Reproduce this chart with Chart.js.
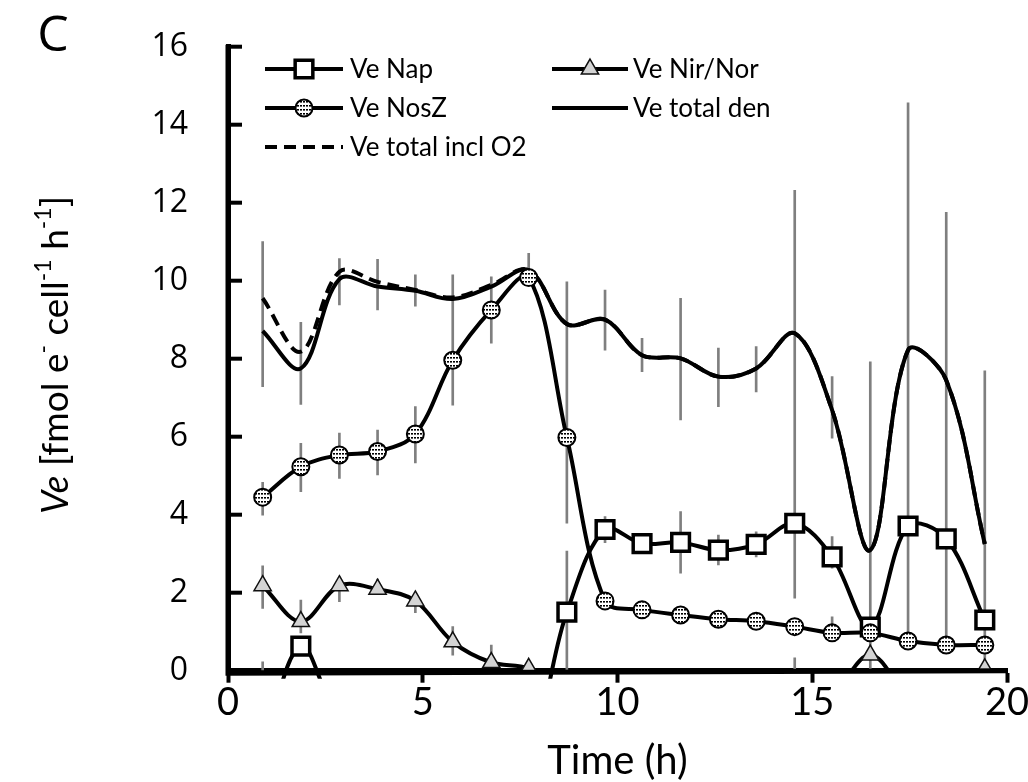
<!DOCTYPE html>
<html><head><meta charset="utf-8">
<script src="https://cdn.jsdelivr.net/npm/chart.js@4.4.1/dist/chart.umd.min.js"></script>
<style>html,body{margin:0;padding:0;background:#fff;}#wrap{width:1028px;height:782px;position:relative;}</style>
</head><body><div id="wrap"><canvas id="c"></canvas></div>
<script>
// ---- data ----
const times = [0.89,1.87,2.86,3.84,4.81,5.77,6.76,7.72,8.70,9.68,10.63,11.62,12.59,13.56,14.55,15.51,16.49,17.46,18.44,19.43];
const veNap = [-2.0,0.63,-1.2,-1.5,-1.5,-1.5,-1.5,-1.85,1.5,3.62,3.26,3.29,3.09,3.24,3.78,2.92,1.12,3.71,3.38,1.30];
const veNirNor = [2.18,1.26,2.18,2.09,1.79,0.74,0.21,0.06,-0.6,-1.0,-1.0,-1.0,-1.0,-1.0,-1.0,-0.6,0.4,-0.65,-1.2,0.05];
const veNosZ = [4.45,5.23,5.53,5.62,6.07,7.96,9.25,10.08,5.98,1.79,1.56,1.43,1.32,1.27,1.13,0.97,0.97,0.76,0.66,0.66];
const veTotalDen = [8.71,7.75,10.04,9.85,9.74,9.53,9.85,10.27,8.89,9.0,8.09,8.01,7.54,7.75,8.65,6.68,3.09,8.22,7.45,3.25];
const veTotalInclO2 = [9.55,8.18,10.23,9.97,9.76,9.57,9.89,10.27,8.89,9.0,8.09,8.01,7.54,7.75,8.65,6.68,3.09,8.22,7.45,3.25];
// error bar ranges (low / high), null = none visible
const errTotLo = [7.28,6.83,9.38,9.25,9.35,6.81,8.4,10.3,3.78,8.22,7.67,6.43,6.77,7.15,1.86,5.96,0,0.87,0.79,0.2];
const errTotHi = [11.0,8.93,10.57,10.55,10.15,10.15,10.1,10.7,9.97,9.76,8.52,9.55,8.27,8.31,12.32,7.54,7.92,14.56,11.75,7.69];
const errNosZLo = [3.99,4.59,4.93,5.02,5.33,null,null,null,null,null,null,null,null,null,null,0.79,null,null,null,null];
const errNosZHi = [4.83,5.83,6.09,6.17,6.77,null,null,null,null,null,null,null,null,null,null,1.38,null,null,null,null];
const errNirLo = [1.6,0.97,1.77,1.95,1.49,0.4,0.1,null,null,null,null,null,null,null,0,null,null,null,null,null];
const errNirHi = [2.69,1.81,2.37,2.35,2.0,1.13,0.66,null,null,null,null,null,null,null,0.33,null,null,null,null,null];
const errNapLo = [0,null,null,null,null,null,null,null,0,3.28,3.0,2.5,2.71,2.92,null,2.63,null,null,null,null];
const errNapHi = [0.23,null,null,null,null,null,null,null,3.07,3.95,3.5,4.08,3.48,3.56,null,3.44,null,null,null,null];
const xTicks = [0,5,10,15,20];
const yTicks = [0,2,4,6,8,10,12,14,16];
const seriesLabels = ['Ve Nap','Ve Nir/Nor','Ve NosZ','Ve total den','Ve total incl O2'];

// ---- hatch pattern for NosZ markers ----
function makePattern(){
  const p = document.createElement('canvas'); p.width = 3; p.height = 4;
  const g = p.getContext('2d');
  g.fillStyle = '#fff'; g.fillRect(0,0,3,4);
  g.fillStyle = '#000'; g.fillRect(0,1,2,1.6);
  return g.createPattern(p,'repeat');
}
const hatch = makePattern();

const pts = arr => times.map((t,i)=>({x:t,y:arr[i]}));
const rng = (lo,hi) => times.map((t,i)=> lo[i]==null ? null : {x:t,y:[lo[i],hi[i]]}).filter(Boolean);
const errDS = (lo,hi) => ({type:'bar',data:rng(lo,hi),backgroundColor:'#7f7f7f',borderWidth:0,barThickness:2,grouped:false,order:10,label:'_err'});
const clipB = {left:0,top:0,right:0,bottom:8};

const datasets = [
  {label:seriesLabels[0],data:pts(veNap),borderColor:'#000',borderWidth:4,pointStyle:'rect',pointRadius:12.5,pointBorderWidth:3.5,pointBackgroundColor:'#fff',pointBorderColor:'#000',order:3,clip:clipB},
  {label:seriesLabels[1],data:pts(veNirNor),borderColor:'#000',borderWidth:4,pointStyle:'triangle',pointRadius:10,pointBorderWidth:1.5,pointBackgroundColor:'#d4d4d4',pointBorderColor:'#111',order:4,clip:{left:0,top:0,right:0,bottom:1}},
  {label:seriesLabels[2],data:pts(veNosZ),borderColor:'#000',borderWidth:4,pointStyle:'circle',pointRadius:8.5,pointBorderWidth:2,pointBackgroundColor:hatch,pointBorderColor:'#000',order:0,clip:clipB},
  {label:seriesLabels[3],data:pts(veTotalDen),borderColor:'#000',borderWidth:4,pointRadius:0,order:2,clip:clipB},
  {label:seriesLabels[4],data:pts(veTotalInclO2),borderColor:'#000',borderWidth:4,borderDash:[12,7],pointRadius:0,order:1,clip:clipB},
  errDS(errTotLo,errTotHi), errDS(errNosZLo,errNosZHi), errDS(errNirLo,errNirHi), errDS(errNapLo,errNapHi)
];

function drawMarker(ctx, ds, x, y){
  const st = ds.pointStyle; if(!st || !ds.pointRadius) return;
  const r = ds.pointRadius;
  ctx.save(); ctx.beginPath();
  if(st==='rect'){ const s = Math.SQRT1_2*r; ctx.rect(x-s,y-s,2*s,2*s); }
  else if(st==='circle'){ ctx.arc(x,y,r,0,Math.PI*2); }
  else if(st==='triangle'){ ctx.moveTo(x, y-r); ctx.lineTo(x+r*Math.sin(2*Math.PI/3), y-r*Math.cos(2*Math.PI/3)); ctx.lineTo(x+r*Math.sin(4*Math.PI/3), y-r*Math.cos(4*Math.PI/3)); ctx.closePath(); }
  ctx.fillStyle = ds.pointBackgroundColor; ctx.fill();
  ctx.lineWidth = ds.pointBorderWidth; ctx.strokeStyle = ds.pointBorderColor; ctx.stroke();
  ctx.restore();
}

const extras = {
  id:'extras',
  afterDraw(chart){
    const ctx = chart.ctx, ca = chart.chartArea, ys = chart.scales.y;
    ctx.save();
    // redraw axis lines on top
    ctx.strokeStyle='#000'; ctx.lineWidth=5; ctx.lineCap='butt';
    ctx.beginPath(); ctx.moveTo(ca.left, ca.top-2); ctx.lineTo(ca.left, ca.bottom+2.5); ctx.lineTo(ca.right, ca.bottom); ctx.stroke();
    // inward y ticks
    ctx.lineWidth=4;
    yTicks.forEach(v=>{ const py = ys.getPixelForValue(v); ctx.beginPath(); ctx.moveTo(ca.left, py); ctx.lineTo(ca.left+14, py); ctx.stroke(); });
    // legend
    const cols=[{x1:265,x2:343,tx:350},{x1:552,x2:628,tx:633}];
    const rows=[69,108,147];
    ctx.font='26px Lato'; ctx.textBaseline='middle'; ctx.fillStyle='#000';
    [0,1,2,3,4].forEach((di,k)=>{
      const ds = chart.data.datasets[di];
      const c = cols[k%2], y = rows[Math.floor(k/2)];
      ctx.save(); ctx.strokeStyle='#000'; ctx.lineWidth=4; ctx.setLineDash(ds.borderDash||[]);
      ctx.beginPath(); ctx.moveTo(c.x1,y); ctx.lineTo(c.x2,y); ctx.stroke(); ctx.restore();
      drawMarker(ctx, ds, (c.x1+c.x2)/2, y);
      ctx.fillStyle='#000'; ctx.fillText(ds.label, c.tx, y+1);
    });
    // panel letter
    ctx.font='50px "Open Sans"'; ctx.textAlign='center'; ctx.fillText('C', 53, 37);
    // y title with italic and superscripts
    const segs=[['Ve','italic',0],[' [fmol e','',0],['-','',1],[' cell','',0],['-1','',1],[' h','',0],['-1','',1],[']','',0]];
    const fs=37, sfs=23;
    ctx.translate(56, 355); ctx.rotate(-Math.PI/2); ctx.textAlign='left';
    let tot=0; segs.forEach(s=>{ ctx.font=(s[1]?s[1]+' ':'')+(s[2]?sfs:fs)+'px Lato'; tot+=ctx.measureText(s[0]).width; });
    let x=-tot/2;
    segs.forEach(s=>{ ctx.font=(s[1]?s[1]+' ':'')+(s[2]?sfs:fs)+'px Lato'; ctx.fillText(s[0], x, s[2]? -12 : 0); x+=ctx.measureText(s[0]).width; });
    ctx.restore();
  }
};

new Chart(document.getElementById('c'), {
  type:'line',
  data:{datasets},
  options:{
    responsive:true, maintainAspectRatio:false, animation:false, events:[],
    layout:{padding:{top:46.7,right:21,left:0,bottom:0}},
    elements:{line:{tension:0.35,capBezierPoints:false,fill:false}},
    plugins:{legend:{display:false},tooltip:{enabled:false}},
    scales:{
      x:{type:'linear',min:0,max:20,offset:false,
        afterBuildTicks(s){ s.ticks = xTicks.map(v=>({value:v})); },
        afterFit(s){ s.height = 782-670.7; s.paddingLeft=0; s.paddingRight=0; },
        grid:{drawOnChartArea:false,drawTicks:true,tickLength:12,tickWidth:4,tickColor:'#000',offset:false},
        border:{display:true,width:5,color:'#000'},
        ticks:{font:{family:'Lato',size:38},color:'#000',padding:-3,maxRotation:0},
        title:{display:true,text:'Time (h)',font:{family:'Lato',size:40},color:'#000',padding:{top:0,bottom:-3}}
      },
      y:{min:0,max:16,
        afterBuildTicks(s){ s.ticks = yTicks.map(v=>({value:v})); },
        afterFit(s){ s.width = 228; s.paddingTop=0; s.paddingBottom=0; },
        grid:{drawOnChartArea:false,drawTicks:false},
        border:{display:true,width:5,color:'#000'},
        ticks:{font:{family:'Open Sans',size:32},color:'#000',padding:40}
      }
    }
  },
  plugins:[extras]
});
</script></body></html>
